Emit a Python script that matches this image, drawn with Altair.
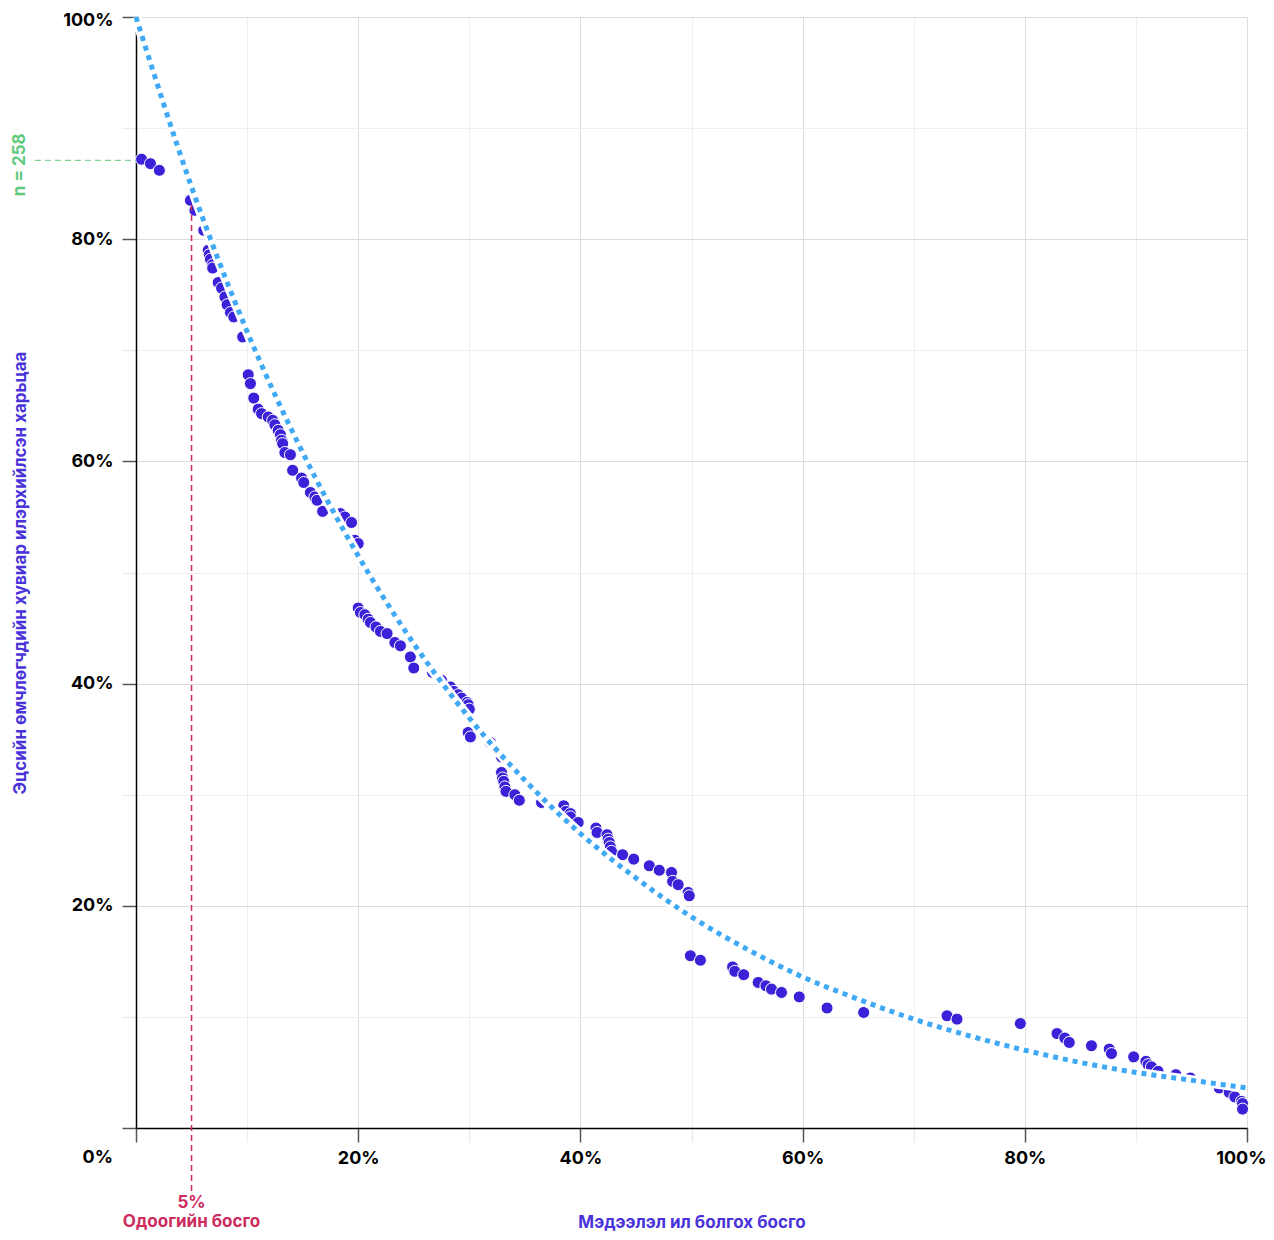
import altair as alt
import pandas as pd

# Scatter points: disclosure threshold (%) vs share of beneficial owners (%)
pt_x = [0.5, 1.3, 2.1, 4.9, 5.3, 6.1, 6.5, 6.6, 6.7, 6.9, 6.9, 7.4, 7.7, 8.0, 8.2, 8.5, 8.8, 9.6,
        10.1, 10.3, 10.6, 11.0, 11.3, 11.9, 12.3, 12.5, 12.8, 13.0, 13.1, 13.2, 13.4, 13.9, 14.1,
        14.9, 15.1, 15.7, 16.1, 16.3, 16.8, 18.4, 18.8, 19.4, 19.7, 20.0,
        20.0, 20.2, 20.6, 20.9, 21.1, 21.6, 22.0, 22.6, 23.3, 23.8, 24.7, 25.0, 26.7, 27.5, 28.3,
        28.6, 29.0, 29.3, 29.8, 29.9, 30.0, 29.9, 30.1, 31.9, 32.9, 32.9, 33.0, 33.1, 33.2, 33.3,
        34.1, 34.5,
        36.5, 38.5, 38.7, 39.1, 39.1, 39.8, 41.4, 41.5, 42.4, 42.5, 42.6, 42.7, 42.8, 43.8, 44.8,
        46.2, 47.1, 48.2, 48.3, 48.8, 49.7, 49.8, 49.9, 50.8, 53.7, 53.9, 54.7, 56.0, 56.7, 57.2,
        58.1, 59.7, 62.2, 65.5, 73.0, 73.9, 79.6, 82.9, 83.6, 84.0, 86.0, 87.6, 87.8, 89.8, 90.9,
        91.1, 91.4, 92.0, 93.6, 94.9, 97.5, 98.4, 98.9, 99.5, 99.6, 99.6]
pt_y = [87.2, 86.8, 86.2, 83.5, 82.6, 80.8, 79.0, 78.6, 78.2, 77.7, 77.4, 76.1, 75.6, 74.8, 74.1,
        73.4, 73.0, 71.2, 67.8, 67.0, 65.7, 64.7, 64.3, 64.0, 63.7, 63.3, 62.8, 62.4, 61.9, 61.6,
        60.8, 60.6, 59.2, 58.5, 58.1, 57.2, 56.8, 56.5, 55.5, 55.3, 55.0, 54.5, 52.9, 52.6,
        46.8, 46.4, 46.2, 45.8, 45.5, 45.1, 44.7, 44.5, 43.7, 43.4, 42.4, 41.4, 41.0, 40.3, 39.7,
        39.3, 39.0, 38.7, 38.3, 38.1, 37.7, 35.6, 35.2, 34.7, 33.4, 32.0, 31.5, 31.2, 30.7, 30.3,
        30.0, 29.5,
        29.3, 29.0, 28.5, 28.3, 28.0, 27.5, 27.0, 26.6, 26.4, 26.0, 25.7, 25.3, 24.9, 24.6, 24.2,
        23.6, 23.2, 23.0, 22.2, 21.9, 21.2, 20.9, 15.5, 15.1, 14.5, 14.1, 13.8, 13.1, 12.8, 12.5,
        12.2, 11.8, 10.8, 10.4, 10.1, 9.8, 9.4, 8.5, 8.1, 7.7, 7.4, 7.1, 6.7, 6.4, 6.0,
        5.7, 5.5, 5.1, 4.8, 4.5, 3.6, 3.2, 2.8, 2.4, 2.2, 1.7]

# Fitted curve
curve_x = [0, 5, 10, 15, 20, 25, 30, 35, 40, 45, 50, 55, 60, 65, 70, 75, 80, 85, 90, 95, 100]
curve_y = [100, 84.7, 71.7, 60.8, 51.5, 43.6, 36.9, 31.3, 26.5, 22.5, 19.0, 16.1, 13.6, 11.6,
           9.8, 8.3, 7.0, 5.9, 5.0, 4.3, 3.6]

threshold_x = [5]
threshold_label = ["5%", "Одоогийн босго"]
n_label = "n = 258"
n_level = 87.1
x_title = "Мэдээлэл ил болгох босго"
y_title = "Эцсийн өмчлөгчдийн хувиар илэрхийлсэн харьцаа"

PURPLE = "#3b22d8"
TITLE_PURPLE = "#4a33d9"
BLUE = "#3fa9f5"
CRIMSON = "#cc2c5e"
GREEN = "#5fc97e"
FONT = "Inter"

W = 1111
H = 1111

tick_values = list(range(0, 101, 10))
major = "datum.value % 20 === 0"

common_axis = dict(
    values=tick_values,
    labelExpr="datum.value % 20 === 0 && datum.value > 0 ? datum.value + '%' : ''",
    labelFont=FONT, labelFontWeight="bold", labelFontSize=18, labelColor="black",
    labelOverlap=False, labelFlush=True,
    tickSize=14, tickWidth=1.5,
    tickColor={"condition": {"test": major, "value": "#555555"}, "value": "#ececec"},
    gridColor={"condition": {"test": major, "value": "#dcdcdc"}, "value": "#efefef"},
    gridWidth=1, domainColor="black", domainWidth=1.5,
    titleFont=FONT, titleFontSize=17, titleFontWeight="bold", titleColor=TITLE_PURPLE,
    titleAlign="center",
)

x_axis = alt.Axis(title=x_title, labelPadding=7, titleX=W / 2, titleY=99,
                  titleBaseline="alphabetic", labelFlushOffset=19, **common_axis)
y_axis = alt.Axis(title=y_title, labelPadding=9, titleX=-116, titleY=H / 2, titleAngle=270,
                  titleBaseline="middle", labelFlushOffset=6, **common_axis)

xscale = alt.Scale(domain=[0, 100], nice=False, zero=False)
yscale = alt.Scale(domain=[0, 100], nice=False, zero=False)


def X(f):
    return alt.X(f, type="quantitative", scale=xscale, axis=x_axis)


def Y(f):
    return alt.Y(f, type="quantitative", scale=yscale, axis=y_axis)


pts = pd.DataFrame({"x": pt_x, "y": pt_y})
curve = pd.DataFrame({"x": curve_x, "y": curve_y})

points = alt.Chart(pts).mark_point(
    filled=True, shape="circle", size=145, color=PURPLE, opacity=1,
    stroke="white", strokeWidth=1
).encode(x=X("x"), y=Y("y"))

red_rule = alt.Chart(pd.DataFrame({"x": threshold_x, "y": [-5.67], "y2": [84.7]})).mark_rule(
    color=CRIMSON, strokeWidth=1.5, strokeDash=[6, 4]
).encode(x=X("x"), y=Y("y"), y2="y2")

green_rule = alt.Chart(pd.DataFrame({"x": [-9.1], "x2": [0], "y": [n_level]})).mark_rule(
    color=GREEN, strokeWidth=1, strokeDash=[6, 4]
).encode(x=X("x"), x2="x2", y=Y("y"))

halo = alt.Chart(curve).mark_line(
    color="white", strokeWidth=10, interpolate="monotone"
).encode(x=X("x"), y=Y("y"))

dotted = alt.Chart(curve).mark_line(
    color=BLUE, strokeWidth=5, strokeDash=[5, 5], interpolate="monotone"
).encode(x=X("x"), y=Y("y"))

thr_pct = alt.Chart(pd.DataFrame({
    "x": threshold_x, "y": [-6.75], "t": [threshold_label[0]]
})).mark_text(
    font=FONT, fontWeight="bold", fontSize=17, color=CRIMSON, align="center", baseline="middle"
).encode(x=X("x"), y=Y("y"), text="t")

thr_name = alt.Chart(pd.DataFrame({
    "x": threshold_x, "y": [-8.91], "t": [threshold_label[1]]
})).mark_text(
    font=FONT, fontWeight="bold", fontSize=17, color=CRIMSON, align="center",
    baseline="alphabetic"
).encode(x=X("x"), y=Y("y"), text="t")

n_text = alt.Chart(pd.DataFrame({"x": [-10.44], "y": [86.7], "t": [n_label]})).mark_text(
    font=FONT, fontWeight="bold", fontSize=17, color=GREEN, align="center", baseline="middle",
    angle=270
).encode(x=X("x"), y=Y("y"), text="t")

zero_text = alt.Chart(pd.DataFrame({"x": [0], "y": [0], "t": ["0%"]})).mark_text(
    font=FONT, fontWeight="bold", fontSize=18, color="black", align="right", baseline="middle",
    dx=-23, dy=30
).encode(x=X("x"), y=Y("y"), text="t")

chart = alt.layer(
    points, red_rule, green_rule, halo, dotted, thr_pct, thr_name, n_text, zero_text
).properties(
    width=W, height=H,
    autosize=alt.AutoSizeParams(type="none"),
    padding={"left": 128, "top": 9, "right": 19, "bottom": 104},
).configure_view(stroke=None).configure(background="white")

chart.save("out.html", embed_options={"renderer": "svg", "actions": False})
